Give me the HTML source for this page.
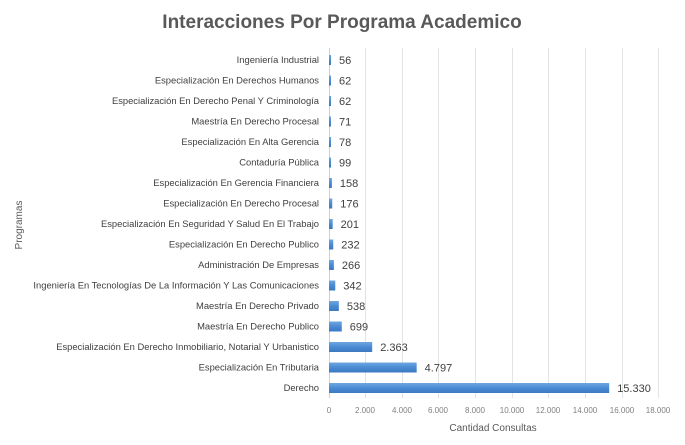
<!DOCTYPE html>
<html><head><meta charset="utf-8"><style>body{margin:0;background:#fff}svg{display:block}</style></head><body>
<svg width="685" height="445" xmlns="http://www.w3.org/2000/svg" font-family="Liberation Sans, sans-serif">
<defs><linearGradient id="g" x1="0" y1="0" x2="0" y2="1"><stop offset="0" stop-color="#6fa6e0"/><stop offset="0.5" stop-color="#4a8bd4"/><stop offset="1" stop-color="#3b78c0"/></linearGradient></defs>
<rect width="685" height="445" fill="#fff"/>
<text x="342" y="28" text-anchor="middle" font-size="19" font-weight="bold" fill="#595959">Interacciones Por Programa Academico</text>
<g stroke="#e3e3e3" stroke-width="1">
<line x1="365.5" y1="48" x2="365.5" y2="398"/><line x1="402.5" y1="48" x2="402.5" y2="398"/><line x1="438.5" y1="48" x2="438.5" y2="398"/><line x1="475.5" y1="48" x2="475.5" y2="398"/><line x1="512.5" y1="48" x2="512.5" y2="398"/><line x1="548.5" y1="48" x2="548.5" y2="398"/><line x1="585.5" y1="48" x2="585.5" y2="398"/><line x1="622.5" y1="48" x2="622.5" y2="398"/><line x1="658.5" y1="48" x2="658.5" y2="398"/>
</g>
<line x1="329.5" y1="48" x2="329.5" y2="398" stroke="#d0d0d0"/>
<g font-size="8" fill="#7f7f7f" text-anchor="middle">
<text x="329" y="413">0</text><text x="365" y="413">2.000</text><text x="402" y="413">4.000</text><text x="438" y="413">6.000</text><text x="475" y="413">8.000</text><text x="512" y="413">10.000</text><text x="548" y="413">12.000</text><text x="585" y="413">14.000</text><text x="622" y="413">16.000</text><text x="658" y="413">18.000</text>
</g>
<text x="493" y="431" text-anchor="middle" font-size="10" fill="#595959">Cantidad Consultas</text>
<text transform="translate(22,225) rotate(-90)" text-anchor="middle" font-size="10" fill="#595959">Programas</text>
<g font-size="9.4" fill="#404040" text-anchor="end" id="labels"></g>
<g id="bars"></g>
<script>
var d=[["Ingeniería Industrial",56,"56"],["Especialización En Derechos Humanos",62,"62"],["Especialización En Derecho Penal Y Criminología",62,"62"],["Maestría En Derecho Procesal",71,"71"],["Especialización En Alta Gerencia",78,"78"],["Contaduría Pública",99,"99"],["Especialización En Gerencia Financiera",158,"158"],["Especialización En Derecho Procesal",176,"176"],["Especialización En Seguridad Y Salud En El Trabajo",201,"201"],["Especialización En Derecho Publico",232,"232"],["Administración De Empresas",266,"266"],["Ingeniería En Tecnologías De La Información Y Las Comunicaciones",342,"342"],["Maestría En Derecho Privado",538,"538"],["Maestría En Derecho Publico",699,"699"],["Especialización En Derecho Inmobiliario, Notarial Y Urbanistico",2363,"2.363"],["Especialización En Tributaria",4797,"4.797"],["Derecho",15330,"15.330"]];
var L=document.getElementById('labels'),B=document.getElementById('bars'),ns="http://www.w3.org/2000/svg";
d.forEach(function(r,i){var y=60+i*20.5;
var t=document.createElementNS(ns,'text');t.setAttribute('x',319);t.setAttribute('y',y+3);t.textContent=r[0];L.appendChild(t);
var w=Math.max(2,r[1]/18000*329);
var b=document.createElementNS(ns,'rect');b.setAttribute('x',329);b.setAttribute('y',y-5);b.setAttribute('width',w);b.setAttribute('height',10);b.setAttribute('fill','url(#g)');B.appendChild(b);
var v=document.createElementNS(ns,'text');v.setAttribute('x',329+w+8);v.setAttribute('y',y+4);v.setAttribute('font-size','11');v.setAttribute('fill','#404040');v.textContent=r[2];B.appendChild(v);});
</script>
</svg>
</body></html>
